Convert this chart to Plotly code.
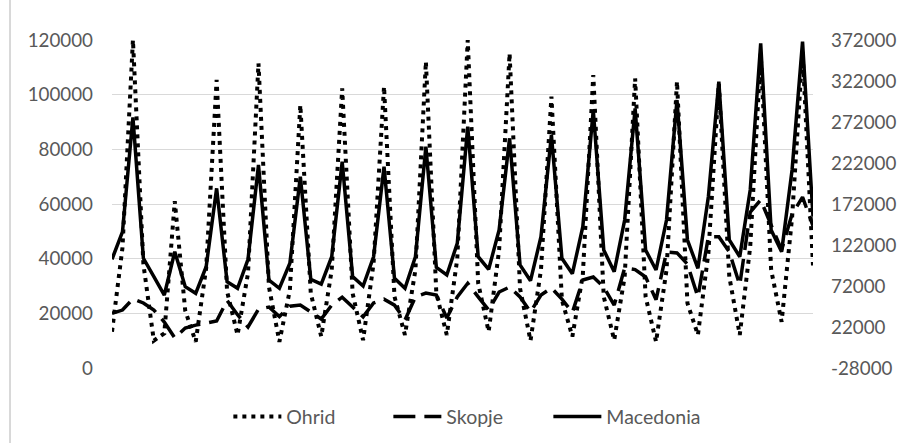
import plotly.graph_objects as go

# Quarterly periods (17 years x 4 quarters)
periods = [f"P{i+1}" for i in range(68)]

ohrid = [13300, 44000, 120000, 38000,
         10000, 12700, 61000, 21000,
         9600, 36500, 105400, 28000,
         12100, 34700, 111500, 29700,
         9600, 28500, 96200, 27300,
         11500, 35900, 102300, 27300,
         10200, 38300, 103000, 26100,
         12100, 35900, 112100, 27300,
         12100, 40000, 120000, 31000,
         13300, 43200, 115100, 29100,
         10000, 35900, 99300, 24900,
         11500, 34000, 107200, 26100,
         10200, 33400, 106000, 26100,
         9600, 35900, 104800, 23700,
         12100, 42000, 104100, 33400,
         12100, 44400, 115000, 35900,
         16900, 55000, 116000, 37500]

skopje = [20000, 21200, 25300, 23800,
          21200, 16800, 11000, 14600,
          15700, 16300, 17200, 24700,
          19500, 15000, 21500, 22300,
          18800, 22600, 23000, 20500,
          17900, 23000, 25900, 22300,
          18700, 23800, 25200, 23000,
          17500, 26000, 27400, 26700,
          18300, 26000, 31000, 26000,
          21200, 27800, 29600, 26000,
          20500, 26700, 29300, 25200,
          20300, 32200, 33300, 29600,
          23000, 36600, 36000, 33300,
          25000, 42400, 42100, 38000,
          26000, 48000, 48000, 42500,
          30400, 57000, 61500, 52300,
          43200, 56300, 62500, 52000]

macedonia = [104600, 138000, 277700, 105800,
             83500, 61000, 113800, 71100,
             63100, 95500, 191100, 77300,
             69200, 104600, 219600, 79300,
             69200, 99700, 205300, 80200,
             74400, 107700, 223600, 83400,
             72000, 107700, 217500, 81400,
             69200, 107700, 241900, 94800,
             85400, 124000, 266300, 107700,
             92300, 140300, 252100, 97600,
             78500, 132100, 256100, 105800,
             87000, 144300, 286600, 115900,
             89400, 152500, 288700, 115900,
             91500, 152500, 298800, 128100,
             93600, 180900, 321200, 128100,
             107700, 189100, 368000, 140300,
             113800, 213500, 369900, 156500]

left_ticks = [0, 20000, 40000, 60000, 80000, 100000, 120000]
right_ticks = [-28000, 22000, 72000, 122000, 172000, 222000, 272000, 322000, 372000]

FONT = "Lato"
GREY = "#595959"
FS = 19.5
TFS = 18.8

fig = go.Figure()
fig.add_trace(go.Scatter(x=periods, y=ohrid, name="Ohrid", mode="lines",
                         line=dict(color="#000000", width=4, dash="4px,5px")))
fig.add_trace(go.Scatter(x=periods, y=skopje, name="Skopje", mode="lines",
                         line=dict(color="#000000", width=3.5, dash="22px,9px")))
fig.add_trace(go.Scatter(x=periods, y=macedonia, name="Macedonia", mode="lines",
                         yaxis="y2", line=dict(color="#000000", width=3.5)))

fig.update_layout(
    width=901, height=443,
    paper_bgcolor="white", plot_bgcolor="white",
    margin=dict(l=112, r=88, t=40, b=75, autoexpand=False),
    font=dict(family=FONT, size=FS, color=GREY),
    xaxis=dict(type="category", showticklabels=False, showgrid=False,
               zeroline=False, showline=False, ticks="", automargin=False),
    yaxis=dict(range=[0, 120000], tickvals=left_ticks,
               ticktext=[str(v) for v in left_ticks],
               showgrid=True, gridcolor="#d9d9d9", gridwidth=1.3,
               zeroline=False, showline=False, ticks="", automargin=False,
               ticklabelstandoff=18,
               tickfont=dict(family=FONT, size=TFS, color=GREY)),
    yaxis2=dict(range=[-28000, 372000], overlaying="y", side="right",
                tickvals=right_ticks, ticktext=[str(v) for v in right_ticks],
                showgrid=False, zeroline=False, showline=False, ticks="",
                automargin=False, ticklabelstandoff=17,
                tickfont=dict(family=FONT, size=TFS, color=GREY)),
    legend=dict(orientation="h", x=0.166, xanchor="left",
                yref="container", y=0.059, yanchor="middle",
                font=dict(family=FONT, size=FS, color=GREY),
                itemwidth=48, entrywidth=97, traceorder="normal"),
    showlegend=True,
    shapes=[dict(type="line", xref="paper", yref="paper",
                 x0=-0.1455, x1=-0.1455, y0=-0.24, y1=1.14,
                 line=dict(color="#bfbfbf", width=1.2))],
)

fig.write_html("out.html",
               config={"displayModeBar": False},
               post_script="document.body.style.margin='0';"
                           "document.body.style.overflow='hidden';")
